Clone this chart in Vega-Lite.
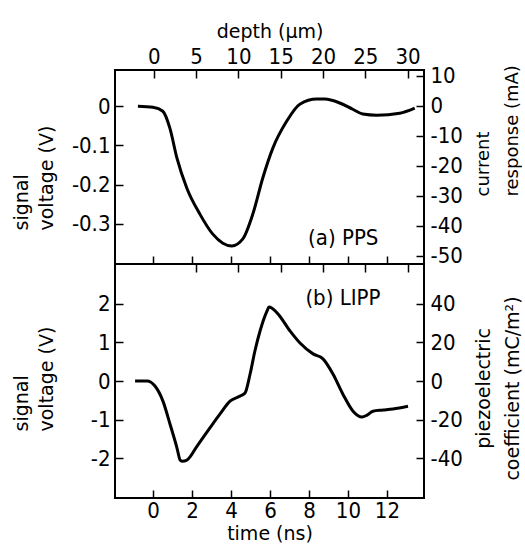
{
  "$schema": "https://vega.github.io/schema/vega-lite/v6.json",
  "padding": {"left": 12, "top": 22, "right": 0, "bottom": 0},
  "background": "white",
  "width": 309,
  "height": 428,
  "config": {
    "font": "DejaVu Sans",
    "view": {"stroke": "black", "strokeWidth": 2},
    "axis": {
      "grid": false,
      "domain": false,
      "ticks": true,
      "tickColor": "black",
      "tickWidth": 1.5,
      "tickSize": -8,
      "labelFont": "Liberation Sans Narrow, DejaVu Sans Condensed, sans-serif",
      "labelFontSize": 22,
      "labelColor": "black",
      "labelPadding": 13,
      "labelExpr": "'' + datum.value",
      "titleFont": "DejaVu Sans",
      "titleFontSize": 19,
      "titleFontWeight": "normal",
      "titleColor": "black",
      "titleLineHeight": 25
    }
  },
  "datasets": {
    "pps": [
      {"depth": -1.89, "voltage": 0},
      {"depth": -0.12, "voltage": -0.003},
      {"depth": 1.06, "voltage": -0.013},
      {"depth": 1.89, "voltage": -0.056},
      {"depth": 2.72, "voltage": -0.132},
      {"depth": 3.9, "voltage": -0.209},
      {"depth": 5.44, "voltage": -0.275},
      {"depth": 6.97, "voltage": -0.326},
      {"depth": 8.16, "voltage": -0.349},
      {"depth": 9.22, "voltage": -0.356},
      {"depth": 10.52, "voltage": -0.338},
      {"depth": 11.7, "voltage": -0.275},
      {"depth": 12.88, "voltage": -0.183},
      {"depth": 14.07, "voltage": -0.107},
      {"depth": 15.72, "voltage": -0.038},
      {"depth": 17.26, "voltage": 0.005},
      {"depth": 19.27, "voltage": 0.018},
      {"depth": 20.21, "voltage": 0.018},
      {"depth": 21.99, "voltage": 0.008},
      {"depth": 23.52, "voltage": -0.008},
      {"depth": 24.7, "voltage": -0.02},
      {"depth": 26.36, "voltage": -0.023},
      {"depth": 29.08, "voltage": -0.018},
      {"depth": 30.85, "voltage": -0.005}
    ],
    "lipp": [
      {"time": -0.92, "voltage": 0},
      {"time": -0.31, "voltage": 0},
      {"time": 0.1, "voltage": -0.13},
      {"time": 0.51, "voltage": -0.52},
      {"time": 0.87, "voltage": -1.11},
      {"time": 1.23, "voltage": -1.73},
      {"time": 1.39, "voltage": -2.04},
      {"time": 1.49, "voltage": -2.07},
      {"time": 1.74, "voltage": -2.04},
      {"time": 2.26, "voltage": -1.68},
      {"time": 2.92, "voltage": -1.21},
      {"time": 3.44, "voltage": -0.85},
      {"time": 3.95, "voltage": -0.52},
      {"time": 4.46, "voltage": -0.39},
      {"time": 4.72, "voltage": -0.31},
      {"time": 4.98, "voltage": 0.18},
      {"time": 5.23, "voltage": 0.78},
      {"time": 5.49, "voltage": 1.29},
      {"time": 5.85, "voltage": 1.81},
      {"time": 5.95, "voltage": 1.91},
      {"time": 6.36, "voltage": 1.76},
      {"time": 7.03, "voltage": 1.29},
      {"time": 7.54, "voltage": 0.98},
      {"time": 8.21, "voltage": 0.7},
      {"time": 8.72, "voltage": 0.57},
      {"time": 9.23, "voltage": 0.18},
      {"time": 9.74, "voltage": -0.34},
      {"time": 10.26, "voltage": -0.78},
      {"time": 10.72, "voltage": -0.93},
      {"time": 10.98, "voltage": -0.88},
      {"time": 11.28, "voltage": -0.78},
      {"time": 11.8, "voltage": -0.75},
      {"time": 12.31, "voltage": -0.72},
      {"time": 13.08, "voltage": -0.65}
    ],
    "labelA": [{"depth": 22.4, "voltage": -0.336, "label": "(a) PPS"}],
    "labelB": [{"time": 9.74, "voltage": 2.14, "label": "(b) LIPP"}],
    "boundary": [{"voltage": 3.02}],
    "secondary": [{"time": 0, "depth": 0, "current": 0, "piezo": 0}]
  },
  "layer": [
    {
      "layer": [
        {
          "data": {"name": "pps"},
          "mark": {"type": "line", "color": "black", "strokeWidth": 3, "interpolate": "monotone"},
          "encoding": {
            "x": {"field": "depth", "type": "quantitative",
              "scale": {"domain": [-4.6, 31.95], "nice": false, "zero": false},
              "axis": {"orient": "top", "values": [0, 5, 10, 15, 20, 25, 30], "title": "depth (µm)", "labelPadding": 10, "titlePadding": 4}},
            "y": {"field": "voltage", "type": "quantitative",
              "scale": {"domain": [-0.402, 0.092], "range": [194, 0], "nice": false, "zero": false},
              "axis": {"orient": "left", "values": [0, -0.1, -0.2, -0.3], "title": ["signal", "voltage (V)"],
                "titleAngle": 270, "titleAlign": "left", "titleBaseline": "top", "titleX": -103, "titleY": 160}}
          }
        },
        {
          "data": {"name": "labelA"},
          "mark": {"type": "text", "font": "Liberation Sans Narrow, DejaVu Sans Condensed, sans-serif", "fontSize": 22, "align": "center", "baseline": "middle", "color": "black"},
          "encoding": {
            "x": {"field": "depth", "type": "quantitative"},
            "y": {"field": "voltage", "type": "quantitative"},
            "text": {"field": "label"}
          }
        }
      ]
    },
    {
      "data": {"name": "secondary"},
      "mark": {"type": "point", "opacity": 0},
      "encoding": {
        "x": {"field": "time", "type": "quantitative",
          "scale": {"domain": [-1.95, 13.9], "nice": false, "zero": false},
          "axis": {"orient": "bottom", "offset": -234, "values": [0, 2, 4, 6, 8, 10, 12], "labels": false, "title": null}},
        "y": {"field": "current", "type": "quantitative",
          "scale": {"domain": [-52.7, 12], "range": [194, 0], "nice": false, "zero": false},
          "axis": {"orient": "right", "values": [10, 0, -10, -20, -30, -40, -50], "title": ["current", "response (mA)"], "labelPadding": 14,
            "titleFontSize": 18, "titleAngle": 270, "titleAlign": "left", "titleBaseline": "top", "titleX": 50, "titleY": 126, "titleLineHeight": 29}}
      }
    },
    {
      "layer": [
        {
          "data": {"name": "lipp"},
          "mark": {"type": "line", "color": "black", "strokeWidth": 3, "interpolate": "monotone"},
          "encoding": {
            "x": {"field": "time", "type": "quantitative",
              "scale": {"domain": [-1.95, 13.9], "nice": false, "zero": false},
              "axis": {"orient": "bottom", "values": [0, 2, 4, 6, 8, 10, 12], "title": "time (ns)", "labelPadding": 10, "titlePadding": 3}},
            "y": {"field": "voltage", "type": "quantitative",
              "scale": {"domain": [-3.02, 3.02], "range": [428, 194], "nice": false, "zero": false},
              "axis": {"orient": "left", "values": [2, 1, 0, -1, -2], "title": ["signal", "voltage (V)"],
                "titleAngle": 270, "titleAlign": "left", "titleBaseline": "top", "titleX": -103, "titleY": 361}}
          }
        },
        {
          "data": {"name": "labelB"},
          "mark": {"type": "text", "font": "Liberation Sans Narrow, DejaVu Sans Condensed, sans-serif", "fontSize": 22, "align": "center", "baseline": "middle", "color": "black"},
          "encoding": {
            "x": {"field": "time", "type": "quantitative"},
            "y": {"field": "voltage", "type": "quantitative"},
            "text": {"field": "label"}
          }
        },
        {
          "data": {"name": "boundary"},
          "mark": {"type": "rule", "color": "black", "strokeWidth": 2},
          "encoding": {
            "y": {"field": "voltage", "type": "quantitative"}
          }
        }
      ]
    },
    {
      "data": {"name": "secondary"},
      "mark": {"type": "point", "opacity": 0},
      "encoding": {
        "x": {"field": "depth", "type": "quantitative",
          "scale": {"domain": [-4.6, 31.95], "nice": false, "zero": false},
          "axis": {"orient": "top", "offset": -194, "values": [5, 10, 15, 20, 25, 30], "labels": false, "title": null}},
        "y": {"field": "piezo", "type": "quantitative",
          "scale": {"domain": [-60.4, 60.4], "range": [428, 194], "nice": false, "zero": false},
          "axis": {"orient": "right", "values": [40, 20, 0, -20, -40], "title": ["piezoelectric", "coefficient (mC/m²)"], "labelPadding": 14,
            "titleAngle": 270, "titleAlign": "center", "titleBaseline": "top", "titleX": 50, "titleY": 318, "titleLineHeight": 29}}
      }
    }
  ],
  "resolve": {"scale": {"x": "independent", "y": "independent"}, "axis": {"x": "independent", "y": "independent"}}
}
